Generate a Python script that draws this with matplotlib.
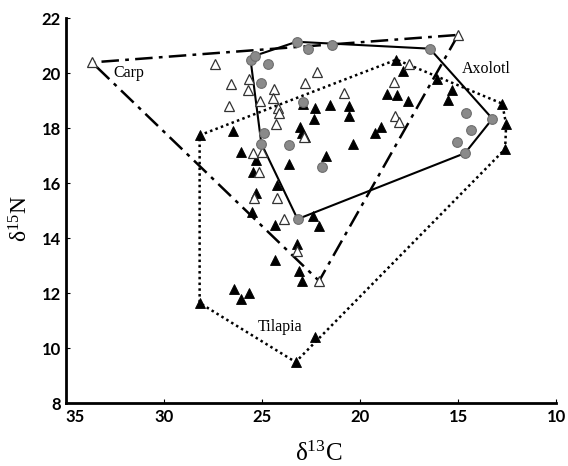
import numpy as np
import matplotlib
matplotlib.use("Agg")
import matplotlib.pyplot as plt
import matplotlib.transforms as mtransforms

plt.rcParams['mathtext.fontset'] = 'custom'
plt.rcParams['mathtext.rm'] = 'Liberation Serif'
plt.rcParams['mathtext.it'] = 'Liberation Serif:italic'

# carp (open triangles)
carp_x = [33.7, 27.4, 26.6, 25.7, 25.75, 26.7, 22.2, 22.8, 24.4, 24.45, 25.1, 24.2, 24.15,
          24.3, 25.5, 25.0, 25.15, 25.4, 24.25, 23.9, 22.85, 15.0, 20.85, 18.25, 17.5, 18.2,
          18.0, 23.25, 22.1]
carp_y = [20.4, 20.35, 19.6, 19.8, 19.4, 18.8, 20.05, 19.65, 19.45, 19.1, 19.0, 18.75, 18.55,
          18.15, 17.1, 17.15, 16.4, 15.45, 15.45, 14.7, 17.7, 21.4, 19.3, 19.7, 20.35, 18.45,
          18.25, 13.55, 12.45]

# tilapia (filled triangles)
tilapia_x = [28.2, 26.5, 26.1, 25.3, 25.5, 23.65, 24.25, 25.3, 25.55, 23.1, 22.95, 22.8, 22.9,
             22.3, 22.35, 24.35, 23.25, 24.35, 23.15, 22.95, 26.45, 26.1, 25.7, 28.2, 23.3,
             22.3, 22.4, 22.1, 18.15, 17.8, 16.1, 15.3, 15.5, 12.75, 12.55, 12.6, 18.65, 18.1,
             17.55, 21.55, 20.55, 20.55, 18.95, 19.25, 20.35, 21.75]
tilapia_y = [17.75, 17.9, 17.15, 16.85, 16.4, 16.7, 15.95, 15.65, 14.95, 18.05, 17.85, 17.7,
             18.9, 18.75, 18.35, 14.5, 13.8, 13.2, 12.8, 12.45, 12.15, 11.8, 12.0, 11.65, 9.5,
             10.4, 14.8, 14.45, 20.5, 20.1, 19.8, 19.4, 19.05, 18.9, 18.15, 17.25, 19.25, 19.2,
             19.0, 18.85, 18.8, 18.45, 18.05, 17.85, 17.45, 17.0]

# axolotl (grey circles)
axolotl_x = [25.6, 25.35, 24.7, 25.05, 23.25, 22.65, 24.9, 25.05, 23.65, 23.2, 21.45, 16.45,
             13.25, 14.6, 14.35, 15.05, 14.65, 21.95, 22.9]
axolotl_y = [20.5, 20.65, 20.35, 19.65, 21.15, 20.9, 17.85, 17.45, 17.4, 14.7, 21.05, 20.9,
             18.35, 18.55, 17.95, 17.5, 17.1, 16.6, 18.95]


def hull(xs, ys):
    pts = sorted(set(zip(xs, ys)))

    def cross(o, a, b):
        return (a[0] - o[0]) * (b[1] - o[1]) - (a[1] - o[1]) * (b[0] - o[0])

    lower, upper = [], []
    for p in pts:
        while len(lower) >= 2 and cross(lower[-2], lower[-1], p) <= 0:
            lower.pop()
        lower.append(p)
    for p in reversed(pts):
        while len(upper) >= 2 and cross(upper[-2], upper[-1], p) <= 0:
            upper.pop()
        upper.append(p)
    h = lower[:-1] + upper[:-1]
    h.append(h[0])
    return np.array(h)


fig = plt.figure(figsize=(5.68, 4.66), dpi=100)
ax = fig.add_axes([0.117, 0.1345, 0.862, 0.826])

hc = hull(carp_x, carp_y)
ht = hull(tilapia_x, tilapia_y)
ha = hull(axolotl_x, axolotl_y)
ax.plot(hc[:, 0], hc[:, 1], color='black', lw=1.8, linestyle=(0, (7, 2.5, 1.5, 2.5)), zorder=2)
ax.plot(ht[:, 0], ht[:, 1], color='black', lw=1.8, linestyle=(0, (1, 1.3)), zorder=2)
ax.plot(ha[:, 0], ha[:, 1], color='black', lw=1.5, linestyle='-', zorder=2)

ax.plot(tilapia_x, tilapia_y, '^', ms=6.5, mfc='black', mec='black', mew=0.6, ls='none', zorder=3)
ax.plot(carp_x, carp_y, '^', ms=6.5, mfc='white', mec='#333333', mew=0.9, ls='none', zorder=4)
ax.plot(axolotl_x, axolotl_y, 'o', ms=7, mfc='#8a8a8a', mec='#6e6e6e', mew=0.8, ls='none', zorder=5)

ax.text(32.6, 20.0, 'Carp', fontsize=11.5, family='Liberation Serif', va='center', ha='left')
ax.text(14.8, 20.17, 'Axolotl', fontsize=11.5, family='Liberation Serif', va='center', ha='left')
ax.text(24.1, 10.77, 'Tilapia', fontsize=11.5, family='Liberation Serif', va='center', ha='center')

ax.set_xlim(35, 10)
ax.set_ylim(8, 22)
ax.set_xticks([35, 30, 25, 20, 15, 10])
ax.set_yticks([8, 10, 12, 14, 16, 18, 20, 22])
for s in ['top', 'right']:
    ax.spines[s].set_visible(False)
for s in ['left', 'bottom']:
    ax.spines[s].set_linewidth(2)
ax.tick_params(direction='in', length=3, width=0.8, pad=4)
for lab in ax.get_xticklabels() + ax.get_yticklabels():
    lab.set_fontfamily('Lato')
    lab.set_fontweight('bold')
    lab.set_fontsize(12)

# nudge "35" right so it clears the "8"
first = ax.get_xticklabels()[0]
first.set_transform(first.get_transform() + mtransforms.ScaledTranslation(6 / 72, 0, fig.dpi_scale_trans))

ax.set_xlabel('δ$^{13}$C', fontsize=18, family='Liberation Serif')
ax.set_ylabel('δ$^{15}$N', fontsize=17, family='Liberation Serif')
ax.xaxis.set_label_coords(0.516, -0.1)
ax.yaxis.set_label_coords(-0.07, 0.48)

fig.savefig('out.png', dpi=100)
